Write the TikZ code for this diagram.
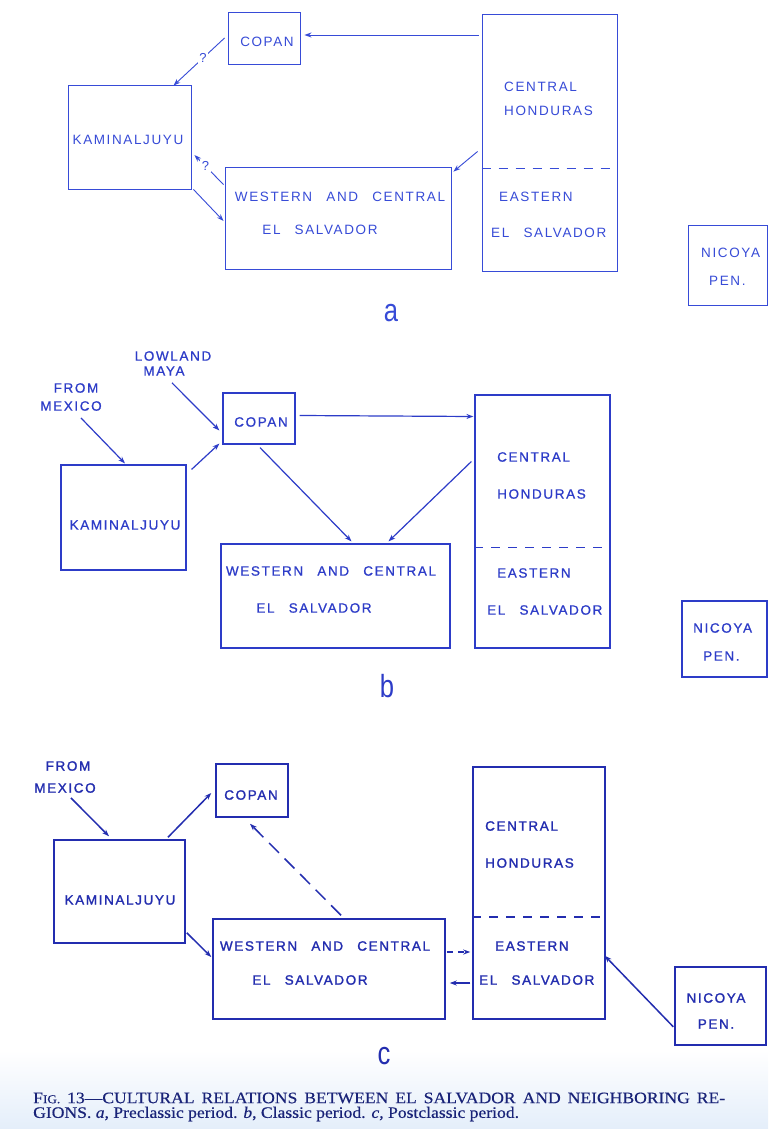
\documentclass[tikz,border=0pt]{standalone}
\usepackage{fontspec}
\setmainfont{Liberation Serif}
\newfontfamily\capfont[FakeStretch=1.1,FakeBold=0.4]{Liberation Serif}
\newfontfamily\lettA[LetterSpace=12]{Liberation Sans}
\newfontfamily\lettB[LetterSpace=12,FakeBold=0.8]{Liberation Sans}
\newfontfamily\lettC[LetterSpace=12,FakeBold=1.5]{Liberation Sans}
\newfontfamily\panelfont[FakeStretch=0.8]{Liberation Sans}
\usetikzlibrary{arrows.meta,calc,fit}
\definecolor{inkA}{RGB}{55,75,215}
\definecolor{inkB}{RGB}{45,60,200}
\definecolor{inkC}{RGB}{35,45,175}
\definecolor{capcol}{RGB}{25,35,120}
\definecolor{paper}{RGB}{228,238,250}
\newcommand\wgap{\hspace{1.05em}}
\begin{document}
\begin{tikzpicture}[x=1pt,y=-1pt,
  box/.style={draw, rectangle, inner sep=0pt, fit={#1}},
  lbl/.style={inner sep=0pt},
  fA/.style={font=\lettA\fontsize{13.5}{14}\selectfont, text=inkA},
  fB/.style={font=\lettB\fontsize{13.5}{14}\selectfont, text=inkB},
  fC/.style={font=\lettC\fontsize{13.5}{14}\selectfont, text=inkC},
  pA/.style={draw=inkA, line width=0.9pt},
  pB/.style={draw=inkB, line width=1.2pt},
  pC/.style={draw=inkC, line width=1.5pt},
  tip/.style={-{Stealth[length=7pt,width=5pt]}},
  qmark/.style={fill=white, inner sep=1.5pt, font=\lettA\fontsize{13}{13}\selectfont, text=inkA},
  sepline/.style={dash pattern=on 9pt off 8pt},
  panel/.style={inner sep=0pt, font=\panelfont\fontsize{32}{32}\selectfont}
]
\useasboundingbox (0,0) rectangle (768,1129);
\fill[white] (0,0) rectangle (768,1129);
\shade[top color=white, bottom color=paper] (0,1050) rectangle (768,1129);

% ================= panel a =================
\node[box={(228,12) (300,64)}, pA] (copA) {};
\node[box={(482,14) (617,271)}, pA] (chA) {};
\node[box={(68,85) (191,189)}, pA] (kamA) {};
\node[box={(225,167) (451,269)}, pA] (wesA) {};
\node[box={(688,225) (767,305)}, pA] (nicA) {};
\draw[pA, sepline] ($(chA.north west)!0.6!(chA.south west)$) -- ($(chA.north east)!0.6!(chA.south east)$);

\node[lbl, fA] (tcopA) at (267,42) {COPAN};
\node[lbl, fA, anchor=west] (tcenA) at (504,87) {CENTRAL};
\node[lbl, fA, anchor=west] (thonA) at (504,111) {HONDURAS};
\node[lbl, fA] (tkamA) at (128,140) {KAMINALJUYU};
\node[lbl, fA] (twesA) at (340,197) {WESTERN\wgap AND\wgap CENTRAL};
\node[lbl, fA] (telsA) at (320,230) {EL\wgap SALVADOR};
\node[lbl, fA, anchor=west] (teasA) at (499,197) {EASTERN};
\node[lbl, fA, anchor=west] (tesA) at (491,233) {EL\wgap SALVADOR};
\node[lbl, fA, anchor=west] (tnicA) at (701,253) {NICOYA};
\node[lbl, fA, anchor=west] (tpenA) at (709,281) {PEN.};
\node[panel, text=inkA] (labA) at (391,313) {a};

\draw[pA, tip] ($(chA.west |- copA.east)+(-3,-3)$) -- ($(copA.east)+(4,-3)$);
\draw[pA, tip] ($(copA.west)+(-3,0)$) -- node[qmark, pos=0.42] (qA1) {?} ($(kamA.north)+(44,1)$);
\draw[pA, tip] ($(wesA.north west)+(-1,18)$) -- node[qmark, pos=0.62] (qA2) {?} ($(kamA.east)+(3,18)$);
\draw[pA, tip] ($(kamA.south east)+(2,0)$) -- ($(wesA.west)+(-1,3)$);
\draw[pA, tip] ($(chA.west)+(-4,9)$) -- ($(wesA.north east)+(2,5)$);

% ================= panel b =================
\node[box={(223,393) (295,444)}, pB] (copB) {};
\node[box={(475,395) (610,648)}, pB] (chB) {};
\node[box={(61,465) (186,570)}, pB] (kamB) {};
\node[box={(221,544) (450,648)}, pB] (wesB) {};
\node[box={(682,601) (767,677)}, pB] (nicB) {};
\draw[pB, sepline] ($(chB.north west)!0.601!(chB.south west)$) -- ($(chB.north east)!0.601!(chB.south east)$);

\node[lbl, fB] (lowB) at (173,356) {LOWLAND};
\node[lbl, fB] (mayaB) at (164,371) {MAYA};
\node[lbl, fB] (fromB) at (76,388) {FROM};
\node[lbl, fB] (mexB) at (71,406) {MEXICO};
\node[lbl, fB] (tcopB) at (261,422) {COPAN};
\node[lbl, fB, anchor=west] (tcenB) at (497,457) {CENTRAL};
\node[lbl, fB, anchor=west] (thonB) at (497,494) {HONDURAS};
\node[lbl, fB] (tkamB) at (125,525) {KAMINALJUYU};
\node[lbl, fB] (twesB) at (331,571) {WESTERN\wgap AND\wgap CENTRAL};
\node[lbl, fB] (telsB) at (314,608) {EL\wgap SALVADOR};
\node[lbl, fB, anchor=west] (teasB) at (497,573) {EASTERN};
\node[lbl, fB, anchor=west] (tesB) at (487,610) {EL\wgap SALVADOR};
\node[lbl, fB, anchor=west] (tnicB) at (693,628) {NICOYA};
\node[lbl, fB, anchor=west] (tpenB) at (703,656) {PEN.};
\node[panel, text=inkB] (labB) at (387,686) {b};

\draw[pB, tip] ($(mayaB.south)+(8,7)$) -- ($(copB.west)+(-3,12)$);
\draw[pB, tip] ($(mexB.south)+(10,7)$) -- ($(kamB.north)+(1.5,-1)$);
\draw[pB, tip] ($(kamB.north east)+(5,5)$) -- ($(copB.south west)+(-3,-1)$);
\draw[pB, tip] ($(copB.east)+(4,-3)$) -- ($(chB.west |- copB.east)+(-1,-2)$);
\draw[pB, tip] ($(copB.south)+(1,3)$) -- ($(wesB.north)+(16,-2)$);
\draw[pB, tip] ($(chB.west)+(-3,-60)$) -- ($(wesB.north)+(53,-2)$);

% ================= panel c =================
\node[box={(216,764) (288,817)}, pC] (copC) {};
\node[box={(473,767) (605,1019)}, pC] (chC) {};
\node[box={(54,840) (185,943)}, pC] (kamC) {};
\node[box={(213,919) (445,1019)}, pC] (wesC) {};
\node[box={(675,967) (766,1045)}, pC] (nicC) {};
\draw[pC, sepline] ($(chC.north west)!0.595!(chC.south west)$) -- ($(chC.north east)!0.595!(chC.south east)$);

\node[lbl, fC] (fromC) at (68,766) {FROM};
\node[lbl, fC] (mexC) at (65,788) {MEXICO};
\node[lbl, fC] (tcopC) at (251,795) {COPAN};
\node[lbl, fC, anchor=west] (tcenC) at (485,826) {CENTRAL};
\node[lbl, fC, anchor=west] (thonC) at (485,863) {HONDURAS};
\node[lbl, fC] (tkamC) at (120,900) {KAMINALJUYU};
\node[lbl, fC] (twesC) at (325,946) {WESTERN\wgap AND\wgap CENTRAL};
\node[lbl, fC] (telsC) at (310,980) {EL\wgap SALVADOR};
\node[lbl, fC, anchor=west] (teasC) at (495,946) {EASTERN};
\node[lbl, fC, anchor=west] (tesC) at (479,980) {EL\wgap SALVADOR};
\node[lbl, fC] (tnicC) at (716,998) {NICOYA};
\node[lbl, fC] (tpenC) at (716,1024) {PEN.};
\node[panel, text=inkC] (labC) at (384,1056) {c};

\draw[pC, tip] ($(mexC.south)+(6,5)$) -- ($(kamC.north)+(-10.5,-3)$);
\draw[pC, tip] ($(kamC.north)+(48.5,-2)$) -- ($(copC.west)+(-4,2.5)$);
\draw[pC, tip] ($(kamC.south east)+(1,-11)$) -- ($(wesC.west)+(-1,-12)$);
\draw[pC, tip, dash pattern=on 14pt off 8pt] ($(wesC.north)+(12,-3)$) -- ($(copC.south)+(-2,6)$);
\draw[pC, tip, dash pattern=on 6pt off 5pt] ($(wesC.east)+(1,-17)$) -- ($(chC.west |- wesC.east)+(-2,-17)$);
\draw[pC, tip] ($(chC.west |- wesC.east)+(-2,14)$) -- ($(wesC.east)+(4,14)$);
\draw[pC, tip] ($(nicC.south west)+(-1,-19)$) -- ($(chC.south east)+(-1,-64)$);

% ================= caption =================
\node[anchor=west, inner sep=0pt, text=capcol, font=\capfont\fontsize{16}{16}\selectfont] (cap1) at (33,1098)
  {\makebox[692pt][s]{F{\fontsize{12}{12}\selectfont IG.} 13—CULTURAL RELATIONS BETWEEN EL SALVADOR AND NEIGHBORING RE-}};
\node[anchor=west, inner sep=0pt, text=capcol, font=\capfont\fontsize{16}{16}\selectfont] (cap2) at (33,1114)
  {GIONS. \textit{a}, Preclassic period. \textit{b}, Classic period. \textit{c}, Postclassic period.};
\end{tikzpicture}
\end{document}
